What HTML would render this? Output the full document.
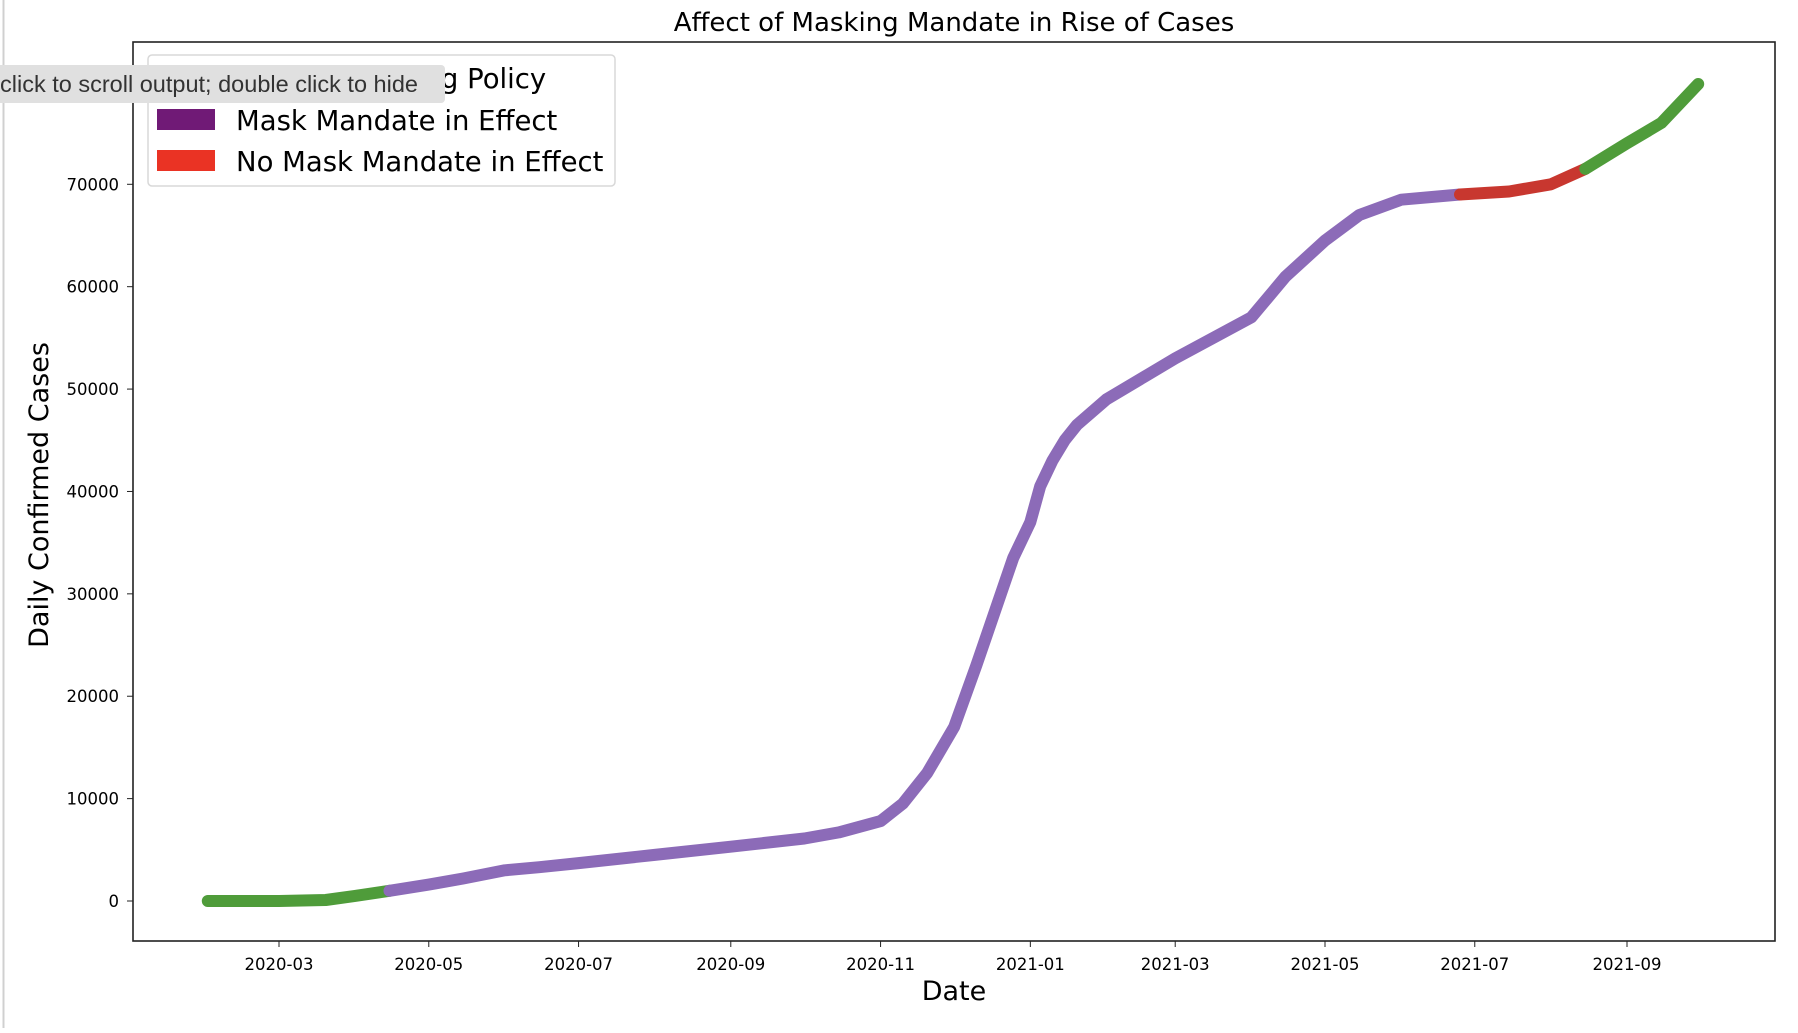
<!DOCTYPE html>
<html><head><meta charset="utf-8"><style>
html,body{margin:0;padding:0;background:#fff;}
body{width:1798px;height:1028px;overflow:hidden;position:relative;font-family:"Liberation Sans","DejaVu Sans",sans-serif;}
svg text{font-family:"DejaVu Sans","Liberation Sans",sans-serif;}
</style></head><body>
<svg id="chart" width="1798" height="1028" xmlns="http://www.w3.org/2000/svg">
<line x1="3.5" y1="0" x2="3.5" y2="1028" stroke="#d0d0d0" stroke-width="2"/>
<text x="954" y="31" font-size="26" text-anchor="middle" fill="#000">Affect of Masking Mandate in Rise of Cases</text>
<g id="marks"></g>
<rect x="133" y="42" width="1642" height="899" fill="none" stroke="#222" stroke-width="1.6"/>
<g id="axes"></g>
<text x="954" y="1000" font-size="27" text-anchor="middle">Date</text>
<text transform="translate(48,495) rotate(-90)" font-size="27" text-anchor="middle">Daily Confirmed Cases</text>
<g>
<rect x="148" y="55" width="467" height="131" rx="4" fill="#fff" stroke="#d8d8d8" stroke-width="1.5"/>
<text x="345" y="88" font-size="27.5">Masking Policy</text>
<rect x="157" y="109" width="58" height="21" fill="#701a76"/>
<text x="236" y="130" font-size="27.5">Mask Mandate in Effect</text>
<rect x="157" y="150" width="58" height="21" fill="#ea3324"/>
<text x="236" y="171" font-size="27.5">No Mask Mandate in Effect</text>
</g>
<g>
<rect x="-6" y="65" width="451" height="38" rx="4" fill="#e0e0e0"/>
<text x="0" y="92" font-size="23.5" fill="#333" style="font-family:'Liberation Sans',sans-serif">click to scroll output; double click to hide</text>
</g>
</svg>
<script>
const dates=["2020-02-01","2020-03-01","2020-03-20","2020-04-01","2020-04-15","2020-05-01","2020-05-15","2020-06-01","2020-06-15","2020-07-01","2020-08-01","2020-09-01","2020-10-01","2020-10-15","2020-11-01","2020-11-10","2020-11-20","2020-12-01","2020-12-10","2020-12-15","2020-12-20","2020-12-25","2021-01-01","2021-01-05","2021-01-10","2021-01-15","2021-01-20","2021-02-01","2021-03-01","2021-04-01","2021-04-15","2021-05-01","2021-05-15","2021-06-01","2021-06-25","2021-07-15","2021-08-01","2021-08-15","2021-09-01","2021-09-15","2021-09-30"];
const cases=[0,0,100,500,1000,1600,2200,3000,3300,3700,4500,5300,6100,6700,7800,9500,12500,17000,23000,26500,30000,33500,37000,40500,43000,45000,46500,49000,53000,57000,61000,64500,67000,68500,69000,69300,70000,71500,74000,76000,79800];
const policy=["none","none","none","none","mask","mask","mask","mask","mask","mask","mask","mask","mask","mask","mask","mask","mask","mask","mask","mask","mask","mask","mask","mask","mask","mask","mask","mask","mask","mask","mask","mask","mask","mask","nomask","nomask","nomask","none","none","none","none"];
const xTicks=["2020-03","2020-05","2020-07","2020-09","2020-11","2021-01","2021-03","2021-05","2021-07","2021-09"];
const yTicks=[0,10000,20000,30000,40000,50000,60000,70000];
const colors={none:"#4f9c3a",mask:"#8c6bb8",nomask:"#c8372f"};
const NS="http://www.w3.org/2000/svg";
const t0=Date.parse("2020-03-01"),t1=Date.parse("2021-09-01");
function xs(d){return 279+(Date.parse(d.length==7?d+"-01":d)-t0)/(t1-t0)*(1627-279);}
function ys(v){return 901-v*(901-184.3)/70000;}
const marks=document.getElementById("marks");
let start=0;
for(let i=1;i<=dates.length;i++){
  if(i==dates.length||policy[i]!=policy[start]){
    const end=Math.min(i,dates.length-1);
    let pts=[];
    for(let j=start;j<=end;j++)pts.push(xs(dates[j]).toFixed(1)+","+ys(cases[j]).toFixed(1));
    const pl=document.createElementNS(NS,"polyline");
    pl.setAttribute("points",pts.join(" "));
    pl.setAttribute("fill","none");
    pl.setAttribute("stroke",colors[policy[start]]);
    pl.setAttribute("stroke-width","12");
    pl.setAttribute("stroke-linecap","round");
    pl.setAttribute("stroke-linejoin","round");
    
    
    marks.appendChild(pl);
    start=i;
  }
}
const axes=document.getElementById("axes");
xTicks.forEach(t=>{
  const x=xs(t);
  const l=document.createElementNS(NS,"line");
  l.setAttribute("x1",x);l.setAttribute("x2",x);l.setAttribute("y1",941);l.setAttribute("y2",947);l.setAttribute("stroke","#222");
  
  
  axes.appendChild(l);
  const tx=document.createElementNS(NS,"text");
  tx.setAttribute("x",x);tx.setAttribute("y",970);tx.setAttribute("font-size","16.5");tx.setAttribute("text-anchor","middle");
  tx.textContent=t;
  
  
  axes.appendChild(tx);
});
yTicks.forEach(v=>{
  const y=ys(v);
  const l=document.createElementNS(NS,"line");
  l.setAttribute("x1",127);l.setAttribute("x2",133);l.setAttribute("y1",y);l.setAttribute("y2",y);l.setAttribute("stroke","#222");
  
  
  axes.appendChild(l);
  const tx=document.createElementNS(NS,"text");
  tx.setAttribute("x",119);tx.setAttribute("y",y+6);tx.setAttribute("font-size","16.5");tx.setAttribute("text-anchor","end");
  tx.textContent=v;
  
  
  axes.appendChild(tx);
});
</script>
</body></html>
